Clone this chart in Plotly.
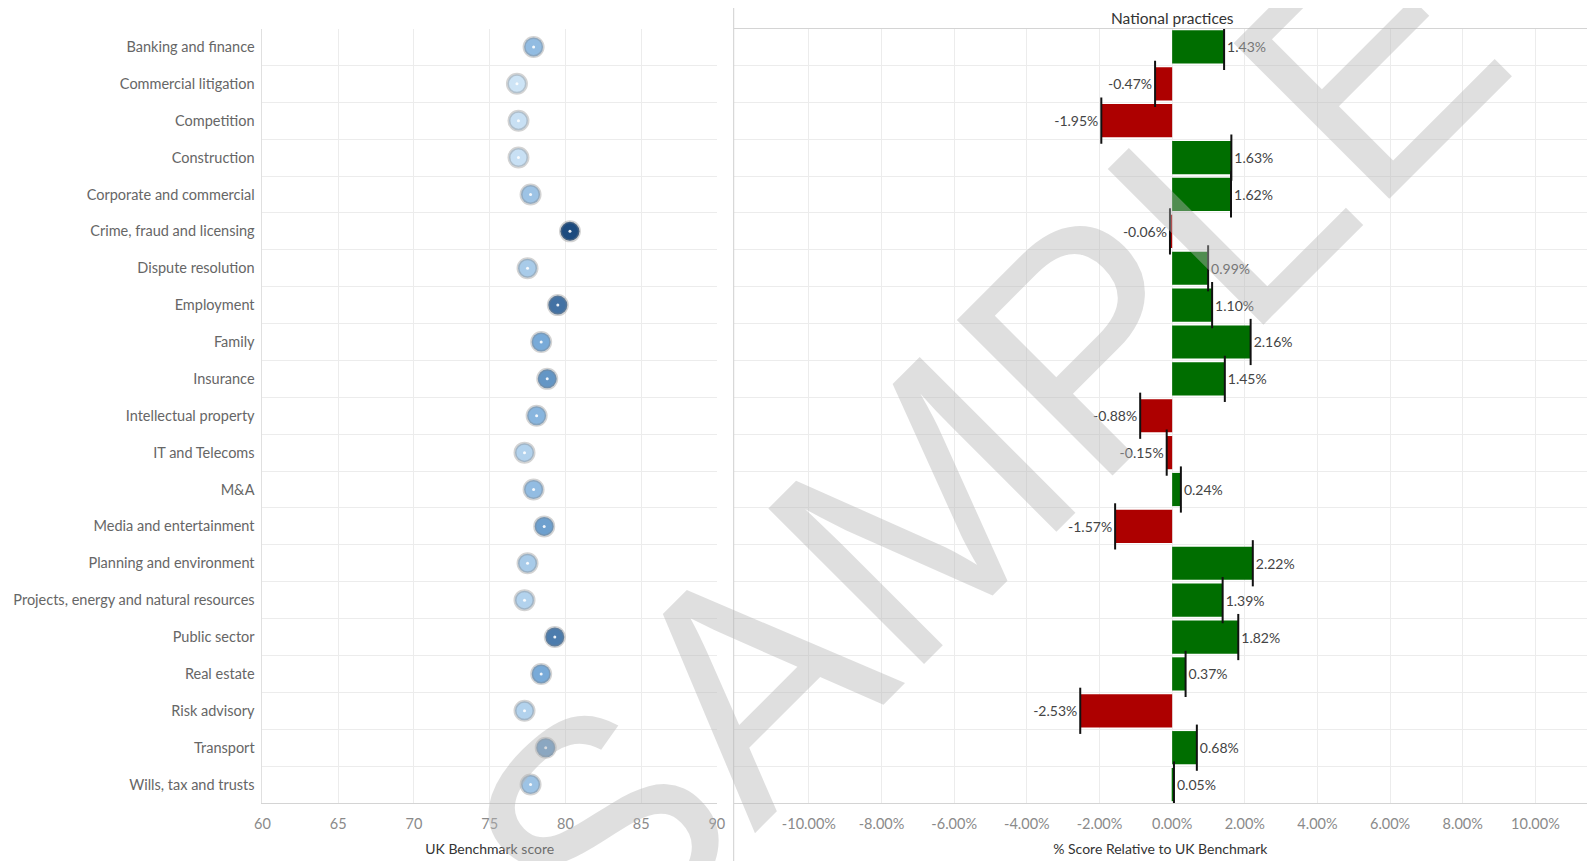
import plotly.graph_objects as go

categories = ["Banking and finance", "Commercial litigation", "Competition", "Construction",
              "Corporate and commercial", "Crime, fraud and licensing", "Dispute resolution",
              "Employment", "Family", "Insurance", "Intellectual property", "IT and Telecoms",
              "M&A", "Media and entertainment", "Planning and environment",
              "Projects, energy and natural resources", "Public sector", "Real estate",
              "Risk advisory", "Transport", "Wills, tax and trusts"]
benchmark_scores = [77.9, 76.8, 76.9, 76.9, 77.7, 80.3, 77.5, 79.5, 78.4, 78.8, 78.1,
                    77.3, 77.9, 78.6, 77.5, 77.3, 79.3, 78.4, 77.3, 78.7, 77.7]
relative_pct = [1.43, -0.47, -1.95, 1.63, 1.62, -0.06, 0.99, 1.10, 2.16, 1.45, -0.88,
                -0.15, 0.24, -1.57, 2.22, 1.39, 1.82, 0.37, -2.53, 0.68, 0.05]
left_ticks = [60, 65, 70, 75, 80, 85, 90]
right_ticks = [-10, -8, -6, -4, -2, 0, 2, 4, 6, 8, 10]
right_tick_labels = ["-10.00%", "-8.00%", "-6.00%", "-4.00%", "-2.00%", "0.00%",
                     "2.00%", "4.00%", "6.00%", "8.00%", "10.00%"]

idx = list(range(len(categories)))
OFF = 8  # page body margin
W, H = 1595 - OFF, 861 - OFF
FONT = "Lato"
GRID = "#ececec"


def px(xf):
    return (xf - OFF) / W


def py(yf):
    return 1 - (yf - OFF) / H


fig = go.Figure()

# left dot plot
fig.add_trace(go.Scatter(
    x=benchmark_scores, y=idx, mode="markers", xaxis="x", yaxis="y",
    marker=dict(size=19, color=benchmark_scores,
                colorscale=[[0, "#cde4f6"], [0.45, "#79abd9"], [1, "#1c4a7e"]],
                cmin=76.8, cmax=80.3,
                line=dict(color="rgba(130,130,130,0.35)", width=3)),
    hoverinfo="skip", showlegend=False))
fig.add_trace(go.Scatter(
    x=benchmark_scores, y=idx, mode="markers", xaxis="x", yaxis="y",
    marker=dict(size=3, color="rgba(255,255,255,0.9)"),
    hoverinfo="skip", showlegend=False))

# right bar plot
bar_colors = ["#006e00" if v >= 0 else "#ad0000" for v in relative_pct]
bar_text = [f"{v:.2f}%" for v in relative_pct]
fig.add_trace(go.Bar(
    x=relative_pct, y=idx, orientation="h", xaxis="x2", yaxis="y2",
    marker=dict(color=bar_colors, line=dict(width=0)), width=0.9,
    text=bar_text, textposition="outside", cliponaxis=False,
    textfont=dict(family=FONT, size=14, color="#444"),
    hoverinfo="skip", showlegend=False))
fig.add_trace(go.Scatter(
    x=relative_pct, y=idx, mode="markers", xaxis="x2", yaxis="y2",
    marker=dict(symbol="line-ns-open", size=33, color="#111",
                line=dict(color="#111", width=2)),
    hoverinfo="skip", showlegend=False))

ydom = [py(803), py(28.5)]
yrange = [len(categories) - 0.5, -0.5]
minor = dict(tick0=0.5, dtick=1, showgrid=True, gridcolor=GRID, gridwidth=1)

fig.update_layout(
    width=W, height=H, margin=dict(l=0, r=0, t=0, b=0),
    plot_bgcolor="white", paper_bgcolor="white",
    font=dict(family=FONT, size=14, color="#666"),
    xaxis=dict(domain=[px(257), px(716)], range=[60, 90], tickvals=left_ticks,
               showgrid=True, gridcolor=GRID, zeroline=False,
               showline=True, linecolor="#d4d4d4", ticks="", ticklabelstandoff=8,
               tickfont=dict(size=14.5, color="#8a8a8a"),
               title=dict(text="UK Benchmark score", font=dict(size=14, color="#333"), standoff=12)),
    yaxis=dict(domain=ydom, range=yrange, tickvals=idx, ticktext=categories,
               showgrid=False, zeroline=False, showline=True, linecolor="#e0e0e0",
               ticks="", ticklabelstandoff=4, tickfont=dict(size=14.5, color="#666"),
               minor=minor),
    xaxis2=dict(domain=[px(733), 1.0], range=[-12.07, 11.42], tickvals=right_ticks,
                ticktext=right_tick_labels, showgrid=True, gridcolor=GRID, zeroline=False,
                showline=True, linecolor="#d4d4d4", ticks="", ticklabelstandoff=8,
                tickfont=dict(size=14.5, color="#8a8a8a"),
                title=dict(text="% Score Relative to UK Benchmark", font=dict(size=14, color="#333"), standoff=12)),
    yaxis2=dict(domain=ydom, range=yrange, anchor="x2", showticklabels=False,
                showgrid=False, zeroline=False, showline=False, ticks="",
                minor=minor),
    shapes=[
        dict(type="line", xref="paper", yref="paper", x0=px(733), x1=px(733), y0=0, y1=py(5),
             line=dict(color="#cfcfcf", width=1)),
        dict(type="line", xref="paper", yref="paper", x0=px(733), x1=1, y0=py(28.5), y1=py(28.5),
             line=dict(color="#d4d4d4", width=1)),
    ],
    annotations=[
        dict(text="National practices", x=0, xref="x2", y=py(18), yref="paper",
             showarrow=False, font=dict(size=15.5, color="#333"), xanchor="center", yanchor="middle"),
        dict(text="SAMPLE", x=px(986), y=py(447), xref="paper", yref="paper", showarrow=False,
             textangle=-45, font=dict(family="Liberation Sans", size=320, color="rgba(182,182,182,0.44)"),
             xanchor="center", yanchor="middle"),
    ],
)

fig.write_html("out.html")
